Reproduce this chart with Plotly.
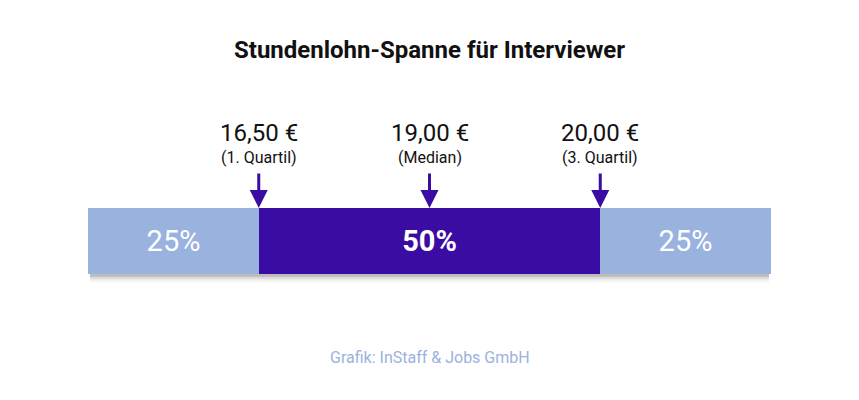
import plotly.graph_objects as go

shares = [25, 50, 25]
share_labels = ["25%", "<b>50%</b>", "25%"]
colors = ["#9ab2de", "#3a0ca3", "#9ab2de"]
marker_pos = [25, 50, 75]
marker_values = ["16,50 €", "19,00 €", "20,00 €"]
marker_notes = ["(1. Quartil)", "(Median)", "(3. Quartil)"]

fig = go.Figure()
for s, lab, c in zip(shares, share_labels, colors):
    fig.add_bar(x=[s], y=[0], orientation="h", marker_color=c, width=1,
                marker_line_width=0,
                text=[lab], textposition="inside", insidetextanchor="middle",
                textfont=dict(color="white", size=29, family="Roboto"),
                hoverinfo="skip", showlegend=False)

# soft shadow under the bar
for i, op in enumerate([0.12, 0.08, 0.05, 0.03]):
    fig.add_shape(type="rect", xref="x", yref="paper", x0=0.3, x1=99.7,
                  y0=-0.04 - i * 0.03, y1=0.9, fillcolor="black", opacity=op,
                  line_width=0, layer="below")

H = 66
base = 266  # bottom of bar in figure px
for xp, v, n in zip(marker_pos, marker_values, marker_notes):
    fig.add_annotation(x=xp, y=1, xref="x", yref="paper", ax=0, ay=-36,
                       showarrow=True, arrowhead=2, arrowsize=1.2, arrowwidth=3,
                       arrowcolor="#3a0ca3", text="")
    fig.add_annotation(x=xp, y=(base - 125) / H, xref="x", yref="paper",
                       text=v, showarrow=False, yanchor="middle",
                       font=dict(size=24, color="#111", family="Roboto"))
    fig.add_annotation(x=xp, y=(base - 149) / H, xref="x", yref="paper",
                       text=n, showarrow=False, yanchor="middle",
                       font=dict(size=16, color="#111", family="Roboto"))

fig.add_annotation(x=0.5, y=(base - 42) / H, xref="paper", yref="paper",
                   text="<b>Stundenlohn-Spanne für Interviewer</b>", showarrow=False,
                   yanchor="middle", font=dict(size=24, color="#111", family="Roboto"))
fig.add_annotation(x=0.5, y=(base - 349) / H, xref="paper", yref="paper",
                   text="Grafik: InStaff & Jobs GmbH", showarrow=False,
                   yanchor="middle", font=dict(size=16, color="#9ab2de", family="Roboto"))

fig.update_layout(
    barmode="stack", width=859, height=400, bargap=0,
    margin=dict(l=80, r=96, t=200, b=134),
    paper_bgcolor="white", plot_bgcolor="rgba(0,0,0,0)",
    xaxis=dict(range=[0, 100], visible=False, fixedrange=True),
    yaxis=dict(range=[-0.5, 0.5], visible=False, fixedrange=True),
)
fig.write_html("out.html")
